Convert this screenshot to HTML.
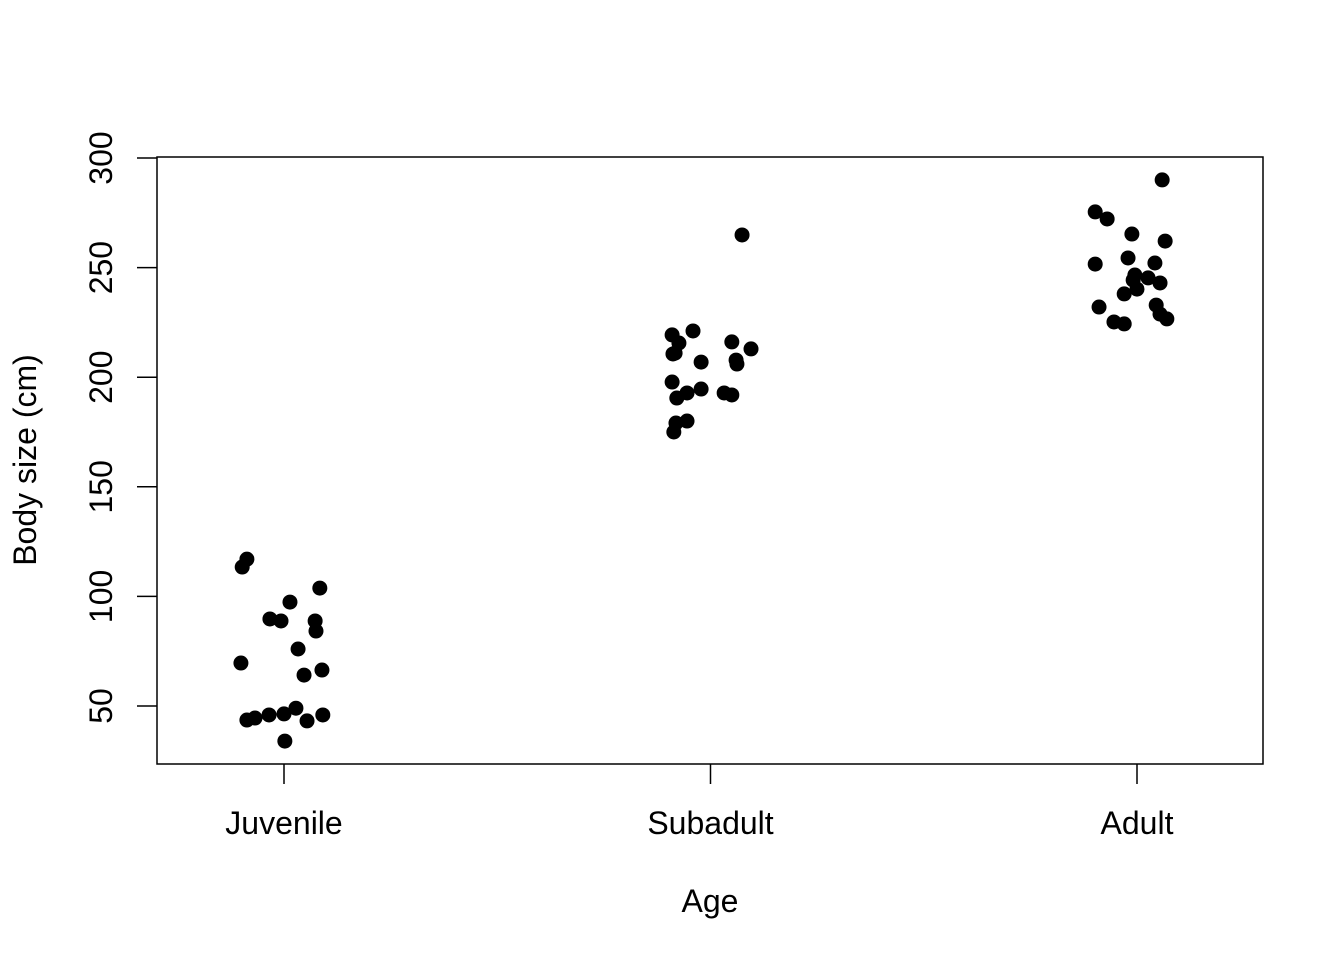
<!DOCTYPE html>
<html><head><meta charset="utf-8"><style>
html,body{margin:0;padding:0;background:#fff;}
svg{display:block;font-family:"Liberation Sans",Arial,sans-serif;}
</style></head><body>
<svg id="chart" width="1344" height="960" xmlns="http://www.w3.org/2000/svg"></svg>
<script>
const categories = ["Juvenile","Subadult","Adult"];
const yTicks = [50,100,150,200,250,300];
const juvenileX = [0.913,0.902,1.084,1.014,0.967,0.993,1.073,1.075,1.033,0.899,1.089,1.047,1.028,1.0,0.965,0.932,0.913,1.054,1.091,1.002];
const juvenileY = [117,113.4,103.8,97.4,89.7,88.8,88.8,84.2,76,69.6,66.4,64.1,49,46.4,45.9,44.5,43.6,43.2,45.9,34];
const subadultX = [2.074,1.959,1.910,1.926,2.050,2.095,1.917,1.912,1.978,2.060,2.062,1.910,1.978,1.945,1.921,2.032,2.050,1.919,1.945,1.914];
const subadultY = [264.9,221.1,219.3,215.6,216.1,212.9,211,210.6,206.9,207.8,206,197.8,194.6,192.8,190.5,192.8,191.9,179.1,180,175];
const adultX = [3.059,2.902,2.930,2.988,3.066,2.979,2.902,3.042,2.995,3.026,2.991,3.054,3.0,2.970,2.911,3.045,3.054,3.070,2.946,2.970];
const adultY = [290,275.4,272.2,265.3,262.1,254.4,251.6,252.1,246.6,245.3,244.3,243,240.2,238,232,232.9,228.8,226.6,225.2,224.3];

const svg = document.getElementById('chart');
const NS = "http://www.w3.org/2000/svg";
const sx = v => 284 + (v-1)*426.5;
const sy = v => 706 - (v-50)*2.192;
function mk(tag, attrs, parent){const e=document.createElementNS(NS,tag);for(const k in attrs)e.setAttribute(k,attrs[k]);(parent||svg).appendChild(e);return e;}

const box = mk('rect',{x:157,y:157,width:1106,height:607,fill:'none',stroke:'#000','stroke-width':1.5});



const yAxis = mk('g',{});


yTicks.forEach(t=>{
  mk('line',{x1:137,x2:157,y1:sy(t),y2:sy(t),stroke:'#000','stroke-width':1.5},yAxis);
  const tx = mk('text',{x:112,y:sy(t),'font-size':32,'text-anchor':'middle',transform:`rotate(-90 112 ${sy(t)})`},yAxis);
  
  
  tx.textContent=t;
});

const xAxis = mk('g',{});


categories.forEach((c,i)=>{
  const x = sx(i+1);
  mk('line',{x1:x,x2:x,y1:764,y2:784,stroke:'#000','stroke-width':1.5},xAxis);
  const tx = mk('text',{x:x,y:834,'font-size':32,'text-anchor':'middle'},xAxis);
  
  
  tx.textContent=c;
});

const xt = mk('text',{x:710,y:912,'font-size':32,'text-anchor':'middle'});


xt.textContent='Age';
const yt = mk('text',{x:36,y:460,'font-size':32,'text-anchor':'middle',transform:'rotate(-90 36 460)'});


yt.textContent='Body size (cm)';

const series = [[juvenileX,juvenileY,'juvenile'],[subadultX,subadultY,'subadult'],[adultX,adultY,'adult']];
series.forEach(([xs,ys,name])=>{
  const g = mk('g',{});
  
  
  xs.forEach((xv,i)=>{
    const c = mk('circle',{cx:sx(xv),cy:sy(ys[i]),r:7.5,fill:'#000'},g);
    
    
  });
});
</script>
</body></html>
